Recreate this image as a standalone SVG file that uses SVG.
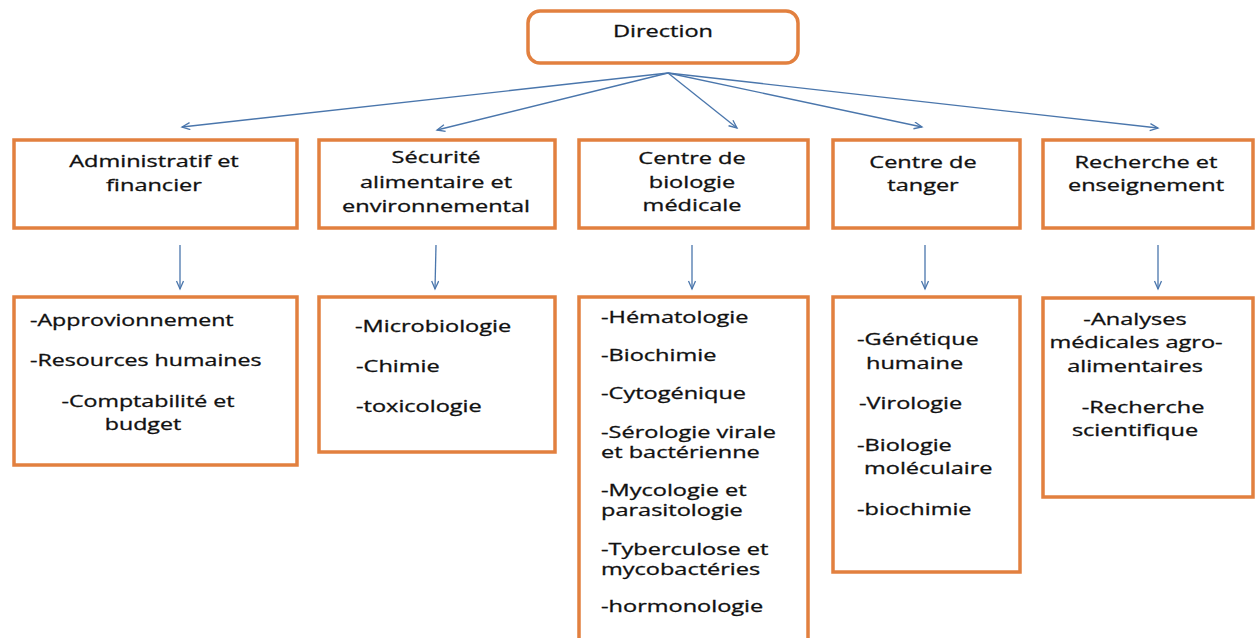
<svg xmlns="http://www.w3.org/2000/svg" width="1258" height="638" viewBox="0 0 1258 638">
<style>
.box{fill:#ffffff;stroke:#E2803F;stroke-width:3.5}
.t{font-family:"Open Sans","Liberation Sans",sans-serif;font-size:16px;fill:#111111;stroke:#111111;stroke-width:0.3}
.m{text-anchor:middle}
.c{fill:none;stroke:#4A76AC;stroke-width:1.3}
</style>
<defs>
<marker id="ah" markerUnits="userSpaceOnUse" markerWidth="12" markerHeight="10" refX="9" refY="4" orient="auto">
<path d="M1,0.5 L9,4 L1,7.5" fill="none" stroke="#4A76AC" stroke-width="1.3"/>
</marker>
</defs>
<rect width="1258" height="638" fill="#ffffff"/>
<g id="connectors">
<line class="c" x1="668" y1="73" x2="182" y2="127" marker-end="url(#ah)"/>
<line class="c" x1="668" y1="73" x2="437" y2="130" marker-end="url(#ah)"/>
<line class="c" x1="668" y1="73" x2="737" y2="128" marker-end="url(#ah)"/>
<line class="c" x1="668" y1="73" x2="922" y2="127" marker-end="url(#ah)"/>
<line class="c" x1="668" y1="73" x2="1158" y2="128" marker-end="url(#ah)"/>
<line class="c" x1="180" y1="245" x2="180" y2="289" marker-end="url(#ah)"/>
<line class="c" x1="436" y1="245" x2="435" y2="289" marker-end="url(#ah)"/>
<line class="c" x1="692" y1="245" x2="692" y2="289" marker-end="url(#ah)"/>
<line class="c" x1="925" y1="245" x2="925" y2="289" marker-end="url(#ah)"/>
<line class="c" x1="1158" y1="245" x2="1158" y2="289" marker-end="url(#ah)"/>
</g>
<g id="direction">
<rect class="box" x="528" y="11" width="270" height="52" rx="12"/>
<text class="t m" transform="translate(663,37) scale(1.47,1)">Direction</text>
</g>
<g id="admin">
<rect class="box" x="14" y="140" width="283" height="88"/>
<text class="t m" transform="translate(154,167) scale(1.47,1)">Administratif et</text>
<text class="t m" transform="translate(154,191) scale(1.47,1)">financier</text>
</g>
<g id="securite">
<rect class="box" x="319" y="140" width="236" height="88"/>
<text class="t m" transform="translate(436,163) scale(1.47,1)">Sécurité</text>
<text class="t m" transform="translate(436,188) scale(1.47,1)">alimentaire et</text>
<text class="t m" transform="translate(436,212) scale(1.47,1)">environnemental</text>
</g>
<g id="biologie">
<rect class="box" x="579" y="140" width="229" height="88"/>
<text class="t m" transform="translate(692,164) scale(1.47,1)">Centre de</text>
<text class="t m" transform="translate(692,188) scale(1.47,1)">biologie</text>
<text class="t m" transform="translate(692,211) scale(1.47,1)">médicale</text>
</g>
<g id="tanger">
<rect class="box" x="833" y="140" width="187" height="88"/>
<text class="t m" transform="translate(923,168) scale(1.47,1)">Centre de</text>
<text class="t m" transform="translate(923,191) scale(1.47,1)">tanger</text>
</g>
<g id="recherche">
<rect class="box" x="1043" y="140" width="210" height="88"/>
<text class="t m" transform="translate(1146,168) scale(1.47,1)">Recherche et</text>
<text class="t m" transform="translate(1146,191) scale(1.47,1)">enseignement</text>
</g>
<g id="admin-list">
<rect class="box" x="14" y="297" width="283" height="168"/>
<text class="t" transform="translate(30,326) scale(1.45,1)">-Approvionnement</text>
<text class="t" transform="translate(30,366) scale(1.45,1)">-Resources humaines</text>
<text class="t m" transform="translate(148,407) scale(1.45,1)">-Comptabilité et</text>
<text class="t m" transform="translate(143,430) scale(1.45,1)">budget</text>
</g>
<g id="securite-list">
<rect class="box" x="319" y="297" width="236" height="155"/>
<text class="t" transform="translate(355,332) scale(1.47,1)">-Microbiologie</text>
<text class="t" transform="translate(356,372) scale(1.47,1)">-Chimie</text>
<text class="t" transform="translate(356,412) scale(1.47,1)">-toxicologie</text>
</g>
<g id="biologie-list">
<rect class="box" x="579" y="297" width="229" height="360"/>
<text class="t" transform="translate(601,323) scale(1.47,1)">-Hématologie</text>
<text class="t" transform="translate(601,361) scale(1.47,1)">-Biochimie</text>
<text class="t" transform="translate(601,399) scale(1.47,1)">-Cytogénique</text>
<text class="t" transform="translate(601,438) scale(1.47,1)">-Sérologie virale</text>
<text class="t" transform="translate(601,458) scale(1.47,1)">et bactérienne</text>
<text class="t" transform="translate(601,496) scale(1.47,1)">-Mycologie et</text>
<text class="t" transform="translate(601,516) scale(1.47,1)">parasitologie</text>
<text class="t" transform="translate(601,555) scale(1.47,1)">-Tyberculose et</text>
<text class="t" transform="translate(601,575) scale(1.47,1)">mycobactéries</text>
<text class="t" transform="translate(601,612) scale(1.47,1)">-hormonologie</text>
</g>
<g id="tanger-list">
<rect class="box" x="833" y="297" width="187" height="275"/>
<text class="t" transform="translate(857,345) scale(1.47,1)">-Génétique</text>
<text class="t" transform="translate(866,369) scale(1.47,1)">humaine</text>
<text class="t" transform="translate(859,409) scale(1.47,1)">-Virologie</text>
<text class="t" transform="translate(857,451) scale(1.47,1)">-Biologie</text>
<text class="t" transform="translate(864,474) scale(1.47,1)">moléculaire</text>
<text class="t" transform="translate(857,515) scale(1.47,1)">-biochimie</text>
</g>
<g id="recherche-list">
<rect class="box" x="1043" y="298" width="210" height="199"/>
<text class="t m" transform="translate(1135,325) scale(1.47,1)">-Analyses</text>
<text class="t m" transform="translate(1136,348) scale(1.47,1)">médicales agro-</text>
<text class="t m" transform="translate(1135,372) scale(1.47,1)">alimentaires</text>
<text class="t m" transform="translate(1143,413) scale(1.47,1)">-Recherche</text>
<text class="t m" transform="translate(1135,436) scale(1.47,1)">scientifique</text>
</g>
</svg>
